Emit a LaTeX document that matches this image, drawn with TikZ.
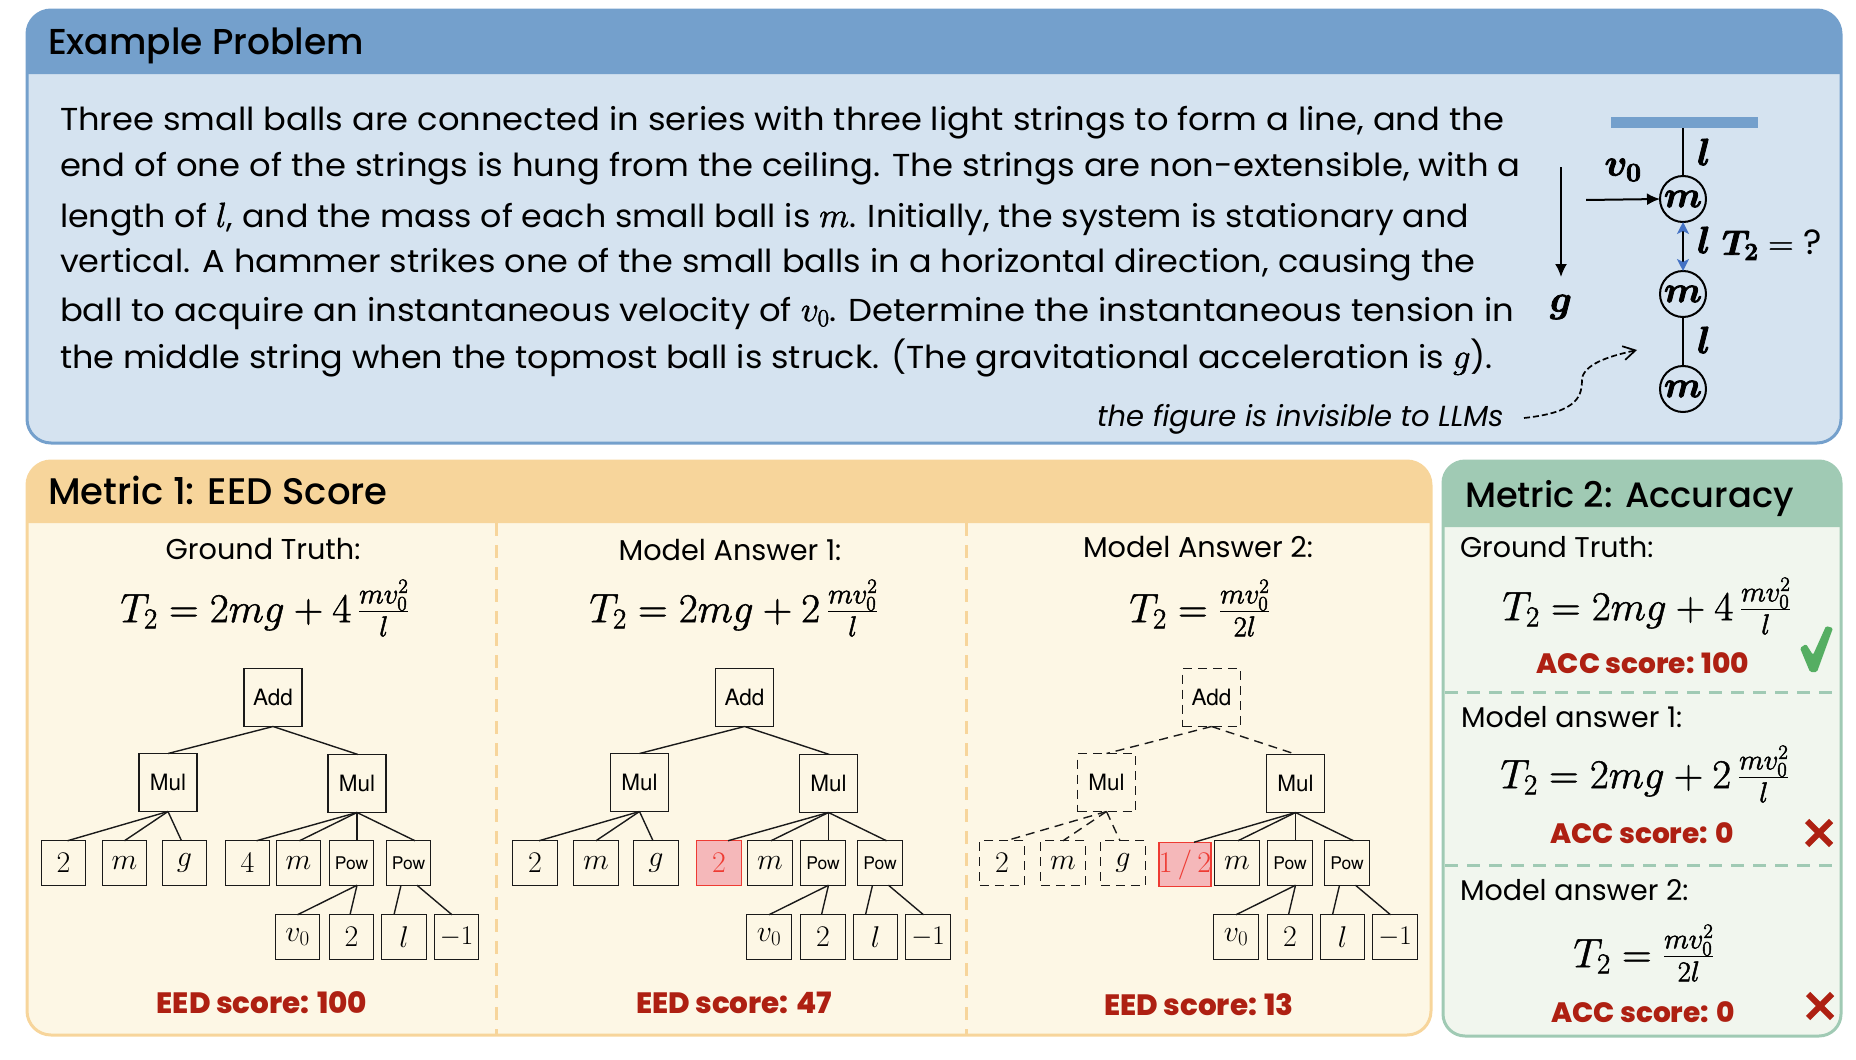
\documentclass[tikz,border=0pt]{standalone}
\usepackage{fix-cm}
\usepackage{amsmath,bm}
\usepackage[no-math]{fontspec}
\setmainfont{Poppins}
\newfontfamily\medfont{Poppins Medium}
\newfontfamily\xboldfont{Poppins ExtraBold}
\newfontfamily\bodyfont{Poppins}[FakeStretch=1.06,ItalicFont={Poppins Italic}]
\newfontfamily\helv{TeX Gyre Heros}
\usetikzlibrary{arrows.meta}
\definecolor{bluehd}{HTML}{74A0CC}
\definecolor{bluebg}{HTML}{D5E3F0}
\definecolor{yelhd}{HTML}{F7D59B}
\definecolor{yelbg}{HTML}{FDF7E5}
\definecolor{grnhd}{HTML}{A0CAB4}
\definecolor{grnbg}{HTML}{F1F6EE}
\definecolor{scorered}{HTML}{AE2012}
\definecolor{boxred}{HTML}{EE3B33}
\definecolor{boxpink}{HTML}{F5B8BA}
\definecolor{okgreen}{HTML}{55AE62}
\definecolor{ink}{HTML}{1A1A1A}
\definecolor{tipblue}{HTML}{4472C4}
\newcommand{\fs}[1]{\fontsize{#1}{#1}\selectfont}
\newcommand{\thk}[1]{\special{pdf:code q 2 Tr 0.5 w}#1\special{pdf:code Q}}
\newcommand{\thkk}[1]{\special{pdf:code q 2 Tr 0.8 w}#1\special{pdf:code Q}}
\newcommand{\inl}[1]{{\fs{35}\thk{#1}}}
\newcommand{\fitln}[2]{\scalebox{#1}[1]{#2}}
\tikzset{
  x=1pt,y=-1pt,
  every node/.style={inner sep=0pt,outer sep=0pt},
  hdrtext/.style={anchor=base west,font=\medfont\fs{36},text=black},
  bodyline/.style={anchor=base west,font=\bodyfont\fs{31.7},text=black},
  subhead/.style={font=\fs{28.7},text=black},
  subheadl/.style={anchor=base west,font=\fs{28.5},text=black},
  formula/.style={font=\fs{41},text=black},
  score/.style={font=\xboldfont\fs{29.4},text=scorered},
  ascore/.style={font=\xboldfont\fs{28},text=scorered},
  opbox/.style={draw=ink,line width=1.4pt,minimum width=58pt,minimum height=58pt,font=\helv\fs{22.5},text=black},
  leaf/.style={draw=ink,line width=1.4pt,minimum width=44.5pt,minimum height=44.5pt,font=\fs{30},text=black},
  powbox/.style={leaf,font=\helv\fs{17.5}},
  edge/.style={draw=ink,line width=1.4pt},
  dashbox/.style={dash pattern=on 9pt off 6pt},
  ball/.style={circle,draw=black,line width=2pt,minimum size=46pt,font=\fs{37}},
  str/.style={draw=black,line width=2pt},
  figlabel/.style={font=\fs{38},text=black},
}
\newcommand{\mtree}[6]{%
\begin{scope}[xshift=#2pt]
\node[opbox,#3] (#1add) at (273,697.5) {Add};
\node[opbox,#3] (#1mula) at (168,782.5) {Mul};
\node[opbox] (#1mulb) at (357,783.5) {Mul};
\node[leaf,#3] (#1two) at (63.5,863) {$2$};
\node[leaf,#3] (#1m) at (124.5,863) {$m$};
\node[leaf,#3] (#1g) at (184.5,863) {$g$};
\node[leaf,#6] (#1coef) at (247.5,863) {#5};
\node[leaf] (#1mm) at (298.5,863) {$m$};
\node[powbox] (#1powa) at (351.5,863) {Pow};
\node[powbox] (#1powb) at (408.5,863) {Pow};
\node[leaf] (#1v) at (297.5,937) {$v_0$};
\node[leaf] (#1e) at (351.5,937) {$2$};
\node[leaf] (#1l) at (404,937) {$l$};
\node[leaf,font=\fs{27}] (#1n) at (456.5,937) {$-1$};
\draw[edge,#4] (#1add.south) -- ([xshift=0pt]#1mula.north);
\draw[edge,#4] (#1add.south) -- ([xshift=1pt]#1mulb.north);
\draw[edge,#4] (#1mula.south) -- ([xshift=4pt]#1two.north);
\draw[edge,#4] (#1mula.south) -- (#1m.north);
\draw[edge,#4] (#1mula.south) -- ([xshift=-3pt]#1g.north);
\draw[edge] (#1mulb.south) -- ([xshift=9pt]#1coef.north);
\draw[edge] (#1mulb.south) -- ([xshift=1pt]#1mm.north);
\draw[edge] (#1mulb.south) -- ([xshift=5.5pt]#1powa.north);
\draw[edge] (#1mulb.south) -- ([xshift=6.5pt]#1powb.north);
\draw[edge] ([xshift=5.5pt]#1powa.south) -- (#1v.north);
\draw[edge] ([xshift=5.5pt]#1powa.south) -- ([xshift=-1.5pt]#1e.north);
\draw[edge] ([xshift=-7.5pt]#1powb.south) -- ([xshift=-10pt]#1l.north);
\draw[edge] ([xshift=8.5pt]#1powb.south) -- ([xshift=-4.5pt]#1n.north);
\end{scope}}
\begin{document}
\begin{tikzpicture}
\useasboundingbox (0,0) rectangle (1856,1060);
% --- top panel
\fill[bluebg,rounded corners=24pt] (27,10) rectangle (1841,443);
\fill[bluehd] (27,74) [rounded corners=24pt] -- (27,10) -- (1841,10) [sharp corners] -- (1841,74) -- cycle;
\draw[bluehd,line width=3pt,rounded corners=24pt] (27,10) rectangle (1841,443);
\node[hdrtext] (t0) at (48,54) {Example Problem};
\node[bodyline] (l1) at (60,130) {\fitln{1.003}{Three small balls are connected in series with three light strings to form a line, and the}};
\node[bodyline] (l2) at (60,176) {\fitln{1.006}{end of one of the strings is hung from the ceiling. The strings are non-extensible, with a}};
\node[bodyline] (l3) at (60,227) {\fitln{0.990}{length of \inl{$l$}, and the mass of each small ball is \inl{$m$}. Initially, the system is stationary and}};
\node[bodyline] (l4) at (60,272) {\fitln{0.9975}{vertical. A hammer strikes one of the small balls in a horizontal direction, causing the}};
\node[bodyline] (l5) at (60,321) {\fitln{1.008}{ball to acquire an instantaneous velocity of \inl{$v_0$}. Determine the instantaneous tension in}};
\node[bodyline] (l6) at (60,368) {\fitln{0.9955}{the middle string when the topmost ball is struck. (The gravitational acceleration is \inl{$g$}).}};
\node[anchor=base west,font=\itshape\fs{29},text=black] (cap) at (1097,426) {the figure is invisible to LLMs};
% physical figure
\fill[bluehd] (1611,117) rectangle (1758,128);
\coordinate (ceil) at (1683,128);
\node[ball] (b1) at (1683,199) {\thkk{$\bm{m}$}};
\node[ball] (b2) at (1683,294) {\thkk{$\bm{m}$}};
\node[ball] (b3) at (1683,389) {\thkk{$\bm{m}$}};
\draw[str] (ceil) -- (b1.north);
\draw[str,{Stealth[color=tipblue,inset=3pt,length=12pt,width=12pt]}-{Stealth[color=tipblue,inset=3pt,length=12pt,width=12pt]}] (b1.south) -- (b2.north);
\draw[str] (b2.south) -- (b3.north);
\node[figlabel] (ll1) at (1704,152) {\thkk{$\bm{l}$}};
\node[figlabel] (ll2) at (1704,240) {\thkk{$\bm{l}$}};
\node[figlabel] (ll3) at (1704,340) {\thkk{$\bm{l}$}};
\node[figlabel] (vz) at (1623,170) {\thkk{$\bm{v_0}$}};
\coordinate (vs) at (1586,200);
\draw[str,-{Latex[length=13pt,width=12pt]}] (vs) -- (b1.west);
\coordinate (gs) at (1561,167);
\coordinate (ge) at (1561,277);
\draw[str,-{Latex[length=13pt,width=12pt]}] (gs) -- (ge);
\node[figlabel] (gl) at (1561,307) {\thkk{$\bm{g}$}};
\node[font=\fs{35},text=black,anchor=west] (tq) at (1722,245) {\thkk{$\bm{T_2}$}\thk{$\;={}$}?};
\coordinate (cs) at (1524,418);
\coordinate (ce) at (1637,350);
\draw[black,line width=1.7pt,dash pattern=on 6pt off 3pt,-{Straight Barb[length=12pt,width=14pt,line width=1.7pt]}] (cs) .. controls (1580,412) and (1582,395) .. (1582,378) .. controls (1586,362) and (1615,355) .. (ce);
% --- EED panel
\fill[yelbg,rounded corners=24pt] (27,461) rectangle (1431,1035);
\fill[yelhd] (27,523) [rounded corners=24pt] -- (27,461) -- (1431,461) [sharp corners] -- (1431,523) -- cycle;
\coordinate (d1a) at (496,523); \coordinate (d1b) at (496,1035);
\coordinate (d2a) at (966,523); \coordinate (d2b) at (966,1035);
\draw[yelhd,line width=3pt,dash pattern=on 13pt off 9pt] (d1a) -- (d1b);
\draw[yelhd,line width=3pt,dash pattern=on 13pt off 9pt] (d2a) -- (d2b);
\draw[yelhd,line width=3pt,rounded corners=24pt] (27,461) rectangle (1431,1035);
\node[hdrtext,font=\medfont\fs{37}] (t1) at (48,504) {Metric 1: EED Score};
\node[subhead] (a1) at (263,549) {Ground Truth:};
\node[subhead] (a2) at (730,550) {Model Answer 1:};
\node[subhead] (a3) at (1198,547) {Model Answer 2:};
\node[formula] (f1) at (265,608) {\thk{$T_2=2mg+4\,\frac{mv_0^2}{l}$}};
\node[formula] (f2) at (734,608) {\thk{$T_2=2mg+2\,\frac{mv_0^2}{l}$}};
\node[formula] (f3) at (1200,608) {\thk{$T_2=\frac{mv_0^2}{2l}$}};
\mtree{a}{0}{}{}{$4$}{}
\mtree{b}{471.5}{}{}{$2$}{fill=boxpink,draw=boxred,text=boxred}
\mtree{c}{938.5}{dashbox}{dashbox}{$1\,/\,2$}{fill=boxpink,draw=boxred,text=boxred,yshift=-1.5pt,xshift=-1pt}
\node[score] (s1) at (262,1003) {EED score: 100};
\node[score] (s2) at (734,1003) {EED score: 47};
\node[score] (s3) at (1199,1005) {EED score: 13};
% --- Accuracy panel
\fill[grnbg,rounded corners=22pt] (1443,461) rectangle (1841,1036);
\fill[grnhd] (1443,527) [rounded corners=22pt] -- (1443,461) -- (1841,461) [sharp corners] -- (1841,527) -- cycle;
\coordinate (e1a) at (1445,692.5); \coordinate (e1b) at (1838,692.5);
\coordinate (e2a) at (1445,865); \coordinate (e2b) at (1838,865);
\draw[grnhd,line width=3pt,dash pattern=on 13pt off 9pt] (e1a) -- (e1b);
\draw[grnhd,line width=3pt,dash pattern=on 13pt off 9pt] (e2a) -- (e2b);
\draw[grnhd,line width=3pt,rounded corners=22pt] (1443,461) rectangle (1841,1036);
\node[hdrtext,font=\medfont\fs{35.2}] (t2) at (1465,507) {Metric 2: Accuracy};
\node[subheadl] (g1) at (1460,557) {Ground Truth:};
\node[subheadl] (g2) at (1461,727) {Model answer 1:};
\node[subheadl] (g3) at (1460,900) {Model answer 2:};
\node[formula] (h1) at (1647,606) {\thk{$T_2=2mg+4\,\frac{mv_0^2}{l}$}};
\node[formula] (h2) at (1645,774) {\thk{$T_2=2mg+2\,\frac{mv_0^2}{l}$}};
\node[formula] (h3) at (1644,953) {\thk{$T_2=\frac{mv_0^2}{2l}$}};
\node[ascore] (p1) at (1643,663) {ACC score: 100};
\node[ascore] (p2) at (1642,833) {ACC score: 0};
\node[ascore] (p3) at (1643,1012) {ACC score: 0};
\fill[okgreen,rounded corners=1.5pt] (1800,648) -- (1806,644) -- (1813,655) -- (1826,626) -- (1833,628) -- (1817,672) -- (1810,672) -- cycle;
\draw[scorered,line width=6pt] (1807,821) -- (1831,845) (1831,821) -- (1807,845);
\draw[scorered,line width=6pt] (1808,994) -- (1832,1018) (1832,994) -- (1808,1018);
\end{tikzpicture}
\end{document}
